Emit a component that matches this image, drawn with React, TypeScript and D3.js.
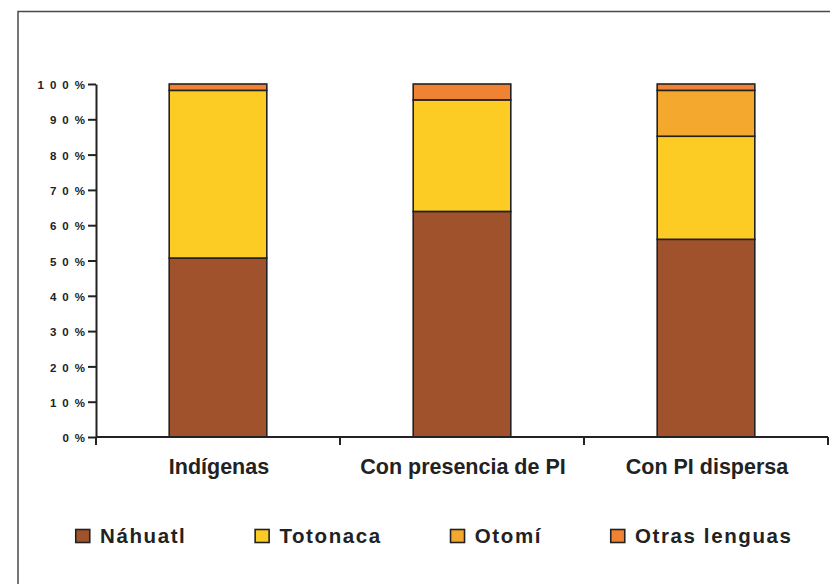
import React, { useEffect, useRef } from "react";
import * as d3 from "d3";

// categories on the x axis
const categories = ["Indígenas", "Con presencia de PI", "Con PI dispersa"];
// series (stack order, bottom to top)
const seriesNames = ["Náhuatl", "Totonaca", "Otomí", "Otras lenguas"];
const nahuatl = [50.7, 63.9, 56.0];
const totonaca = [47.5, 31.6, 29.2];
const otomi = [0, 0, 13.0];
const otras = [1.8, 4.5, 1.8];
const colors = ["#a0522c", "#fccc24", "#f4a82e", "#f08234"];
const yTicks = [0, 10, 20, 30, 40, 50, 60, 70, 80, 90, 100];

const FONT = "'Liberation Sans', Arial, sans-serif";

const App = () => {
  const ref = useRef<SVGSVGElement>(null);

  useEffect(() => {
    const svg = d3.select(ref.current);
    svg.selectAll("*").remove();

    const rows = categories.map((c, i) => ({
      cat: c,
      [seriesNames[0]]: nahuatl[i],
      [seriesNames[1]]: totonaca[i],
      [seriesNames[2]]: otomi[i],
      [seriesNames[3]]: otras[i],
    }));

    const x = d3.scaleBand<string>().domain(categories).range([96, 828]).padding(0);
    const y = d3.scaleLinear().domain([0, 100]).range([437, 84]);
    const barW = x.bandwidth() * 0.4;

    // outer frame (runs off the right and bottom edge)
    svg
      .append("rect")
      .attr("x", 18)
      .attr("y", 11.5)
      .attr("width", 900)
      .attr("height", 700)
      .attr("fill", "none")
      .attr("stroke", "#4a4a4a")
      .attr("stroke-width", 1.5);

    const stacked = d3.stack<any>().keys(seriesNames)(rows);

    const layers = svg
      .selectAll("g.layer")
      .data(stacked)
      .enter()
      .append("g")
      .attr("class", "layer")
      .attr("fill", (d, i) => colors[i]);

    layers
      .selectAll("rect")
      .data((d) => d.filter((s) => s[1] - s[0] > 0))
      .enter()
      .append("rect")
      .attr("x", (d: any) => x(d.data.cat)! + (x.bandwidth() - barW) / 2)
      .attr("width", barW)
      .attr("y", (d) => y(d[1]))
      .attr("height", (d) => y(d[0]) - y(d[1]))
      .attr("stroke", "#222")
      .attr("stroke-width", 1.6);

    // y axis
    const yAxis = svg
      .append("g")
      .attr("transform", "translate(96,0)")
      .call(
        d3
          .axisLeft(y)
          .tickValues(yTicks)
          .tickSize(8)
          .tickSizeOuter(0)
          .tickPadding(3)
          .tickFormat((d) => `${d}%`)
      );
    yAxis.selectAll("path, line").attr("stroke", "#222").attr("stroke-width", 2);
    yAxis
      .selectAll("text")
      .attr("fill", "#222")
      .attr("dx", 6)
      .attr("dy", "0.4em")
      .style("font-family", FONT)
      .style("font-size", "11.5px")
      .style("font-weight", "bold")
      .style("letter-spacing", "6px");

    // x axis line with ticks on the category boundaries
    const xg = svg.append("g");
    xg.append("line")
      .attr("x1", 96)
      .attr("x2", 828)
      .attr("y1", 437)
      .attr("y2", 437)
      .attr("stroke", "#222")
      .attr("stroke-width", 2);
    const bounds = categories.map((c) => x(c)!).concat([x.range()[1]]);
    xg.selectAll("line.tick")
      .data(bounds)
      .enter()
      .append("line")
      .attr("class", "tick")
      .attr("x1", (d) => d)
      .attr("x2", (d) => d)
      .attr("y1", 437)
      .attr("y2", 445)
      .attr("stroke", "#222")
      .attr("stroke-width", 2);
    xg.selectAll("text")
      .data(categories)
      .enter()
      .append("text")
      .attr("x", (d) => x(d)! + x.bandwidth() / 2 + 1)
      .attr("y", 474)
      .attr("text-anchor", "middle")
      .attr("fill", "#222")
      .style("font-family", FONT)
      .style("font-size", "21.5px")
      .style("font-weight", "bold")
      .text((d) => d);

    // legend
    const legend = svg.append("g");
    let lx = 75;
    seriesNames.forEach((name, i) => {
      legend
        .append("rect")
        .attr("x", lx + 0.75)
        .attr("y", 529.5)
        .attr("width", 14)
        .attr("height", 13)
        .attr("fill", colors[i])
        .attr("stroke", "#222")
        .attr("stroke-width", 1.6);
      const t = legend
        .append("text")
        .attr("x", lx + 25)
        .attr("y", 543)
        .attr("fill", "#222")
        .style("font-family", FONT)
        .style("font-size", "20.5px")
        .style("font-weight", "bold")
        .style("letter-spacing", "1.6px")
        .text(name);
      const w = (t.node() as SVGTextElement).getComputedTextLength();
      lx = lx + 25 + w + 68;
    });
  }, []);

  return (
    <svg
      ref={ref}
      width={830}
      height={584}
      style={{ position: "absolute", left: 0, top: 0, background: "#fff" }}
    />
  );
};

export default App;
